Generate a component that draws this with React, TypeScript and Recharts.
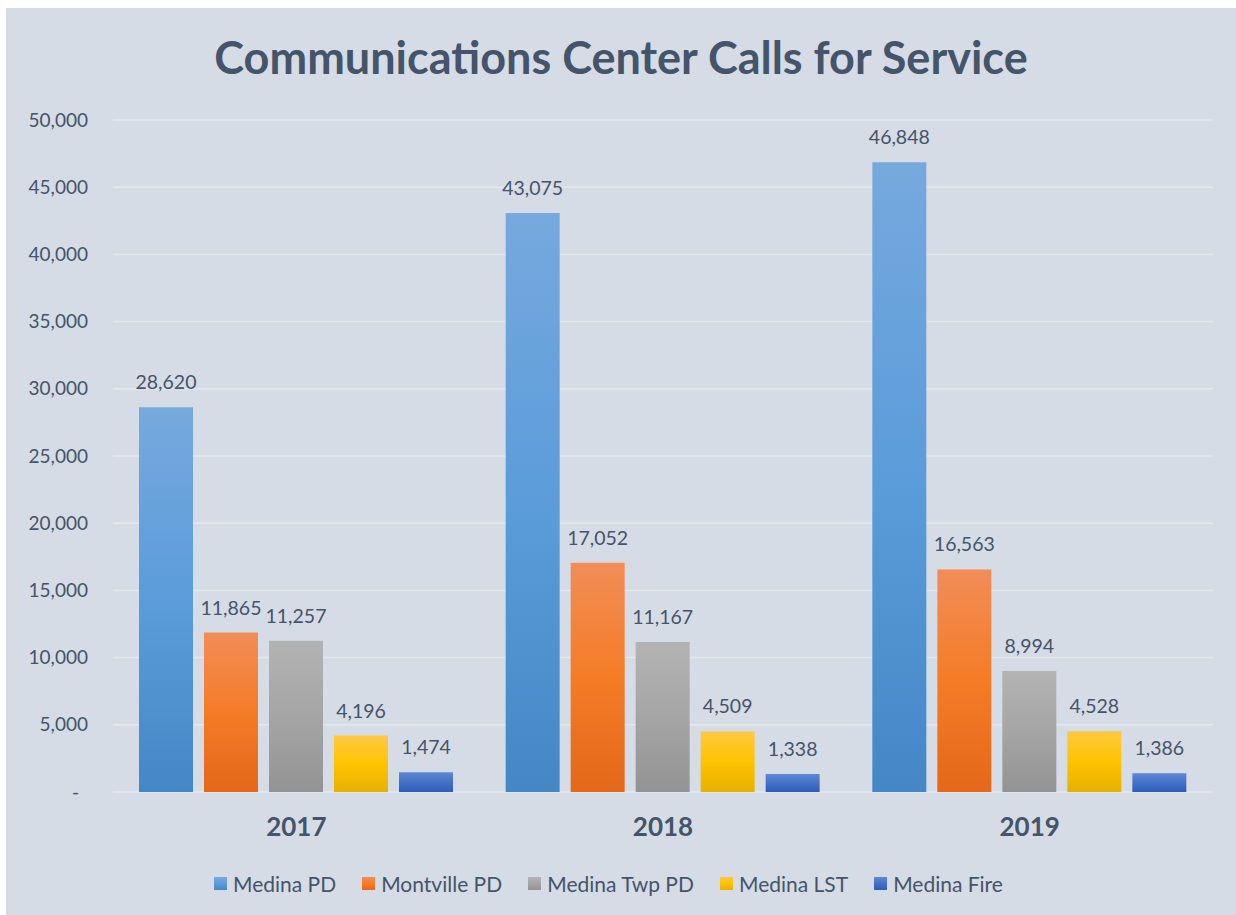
import { BarChart, Bar, XAxis, YAxis, CartesianGrid, LabelList } from "recharts";

const categories = ["2017", "2018", "2019"];
const medinaPD = [28620, 43075, 46848];
const montvillePD = [11865, 17052, 16563];
const medinaTwpPD = [11257, 11167, 8994];
const medinaLST = [4196, 4509, 4528];
const medinaFire = [1474, 1338, 1386];
const yTicks = [0, 5000, 10000, 15000, 20000, 25000, 30000, 35000, 40000, 45000, 50000];

const SERIES = [
  { key: "medinaPD", name: "Medina PD", values: medinaPD, stops: ["#76a9de", "#5b9cda", "#4587c6"] },
  { key: "montvillePD", name: "Montville PD", values: montvillePD, stops: ["#f28d58", "#f47c26", "#e3681a"] },
  { key: "medinaTwpPD", name: "Medina Twp PD", values: medinaTwpPD, stops: ["#b3b3b3", "#a5a5a5", "#939393"] },
  { key: "medinaLST", name: "Medina LST", values: medinaLST, stops: ["#ffc842", "#ffc400", "#e5b000"] },
  { key: "medinaFire", name: "Medina Fire", values: medinaFire, stops: ["#6088d3", "#4471c6", "#2e5cbd"] },
];

const TEXT = "#44546a";
const FONT = "Lato, 'Open Sans', sans-serif";

const data = categories.map((c, i) => {
  const row: Record<string, string | number> = { year: c };
  SERIES.forEach((s) => (row[s.key] = s.values[i]));
  return row;
});

const fmt = (v: number) => (v === 0 ? "-" : v.toLocaleString("en-US"));

function YTick(props: any) {
  const { x, y, payload } = props;
  const zero = payload.value === 0;
  return (
    <text
      x={zero ? x - 9 : x}
      y={y}
      dy="0.35em"
      textAnchor="end"
      fontSize={19}
      fontFamily={FONT}
      fill={TEXT}
    >
      {fmt(payload.value)}
    </text>
  );
}

function Legend() {
  return (
    <div
      style={{
        position: "absolute",
        left: 208,
        top: 863,
        display: "flex",
        alignItems: "center",
        gap: 26,
        fontFamily: FONT,
        fontSize: 21,
        color: TEXT,
      }}
    >
      {SERIES.map((s) => (
        <div key={s.key} style={{ display: "flex", alignItems: "center", gap: 6 }}>
          <span
            style={{
              width: 13,
              height: 13,
              display: "inline-block",
              background: `linear-gradient(${s.stops[0]}, ${s.stops[1]}, ${s.stops[2]})`,
            }}
          />
          <span>{s.name}</span>
        </div>
      ))}
    </div>
  );
}

export default function App() {
  return (
    <div style={{ position: "absolute", left: 0, top: 0, width: 1236, height: 915, background: "#ffffff" }}>
      <div style={{ position: "absolute", left: 6, top: 8, width: 1230, height: 907, background: "#d6dce5" }}>
        <div
          style={{
            position: "absolute",
            left: 0,
            width: 1230,
            top: 22,
            textAlign: "center",
            fontFamily: FONT,
            fontWeight: 700,
            fontSize: 45,
            color: TEXT,
          }}
        >
          Communications Center Calls for Service
        </div>
        <BarChart
          width={1230}
          height={907}
          data={data}
          margin={{ top: 112, right: 23, left: 12, bottom: 0 }}
          barCategoryGap={26}
          barGap={11}
        >
          <defs>
            {SERIES.map((s) => (
              <linearGradient key={s.key} id={`grad-${s.key}`} x1="0" y1="0" x2="0" y2="1">
                <stop offset="0%" stopColor={s.stops[0]} />
                <stop offset="50%" stopColor={s.stops[1]} />
                <stop offset="100%" stopColor={s.stops[2]} />
              </linearGradient>
            ))}
          </defs>
          <CartesianGrid vertical={false} stroke="#e3e7ee" strokeWidth={1.5} />
          <XAxis
            dataKey="year"
            axisLine={false}
            tickLine={false}
            tickMargin={20}
            height={123}
            tick={{ fontSize: 26, fontWeight: 700, fontFamily: FONT, fill: TEXT }}
          />
          <YAxis
            domain={[0, 50000]}
            ticks={yTicks}
            interval={0}
            axisLine={false}
            tickLine={false}
            tickMargin={19}
            width={95}
            tick={<YTick />}
          />
          {SERIES.map((s) => (
            <Bar key={s.key} dataKey={s.key} name={s.name} fill={`url(#grad-${s.key})`} isAnimationActive={false}>
              <LabelList
                dataKey={s.key}
                position="top"
                offset={18}
                formatter={(v: any) => fmt(Number(v))}
                style={{ fontSize: 19.5, fontFamily: FONT, fill: TEXT }}
              />
            </Bar>
          ))}
        </BarChart>
        <Legend />
      </div>
    </div>
  );
}
